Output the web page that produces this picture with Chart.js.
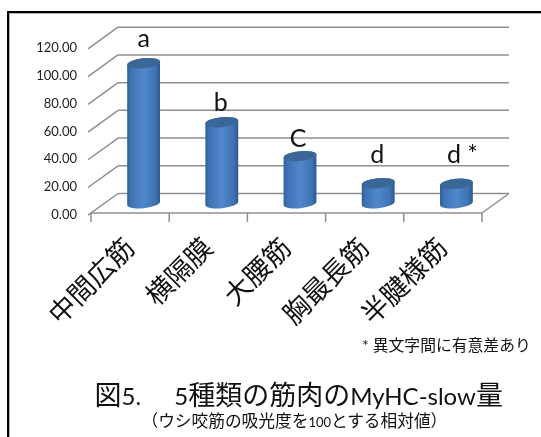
<!DOCTYPE html>
<html>
<head>
<meta charset="utf-8">
<script src="https://cdn.jsdelivr.net/npm/chart.js@4"></script>
<style>
    html, body { margin: 0; padding: 0; background: #ffffff; }
    #page { position: relative; width: 541px; height: 437px; overflow: hidden; }
    #frame { position: absolute; left: 7px; top: 11px; width: 560px; height: 460px; border-left: 2px solid #000000; border-top: 2px solid #000000; box-shadow: inset 1px 1px 0 #b5b5b5; }
    #graph { position: absolute; left: 0; top: 0; }
    .caption { position: absolute; white-space: nowrap; color: #111111; font-family: "Noto Sans CJK JP", sans-serif; }
    .caption span { font-family: Lato, sans-serif; }
    #note { left: 362px; top: 335px; font-size: 15.8px; line-height: 20px; }
    #title { left: 94.5px; top: 378px; font-size: 27px; line-height: 32px; }
    #title span { font-size: 24px; }
    #subtitle { left: 141.5px; top: 410px; font-size: 16.7px; line-height: 20px; }
    #subtitle span { font-size: 13px; }
</style>
</head>
<body>
<div id="page">
    <div id="frame"></div>
    <canvas id="graph" width="541" height="437"></canvas>
    <div id="note" class="caption"><span>* </span>異文字間に有意差あり</div>
    <div id="title" class="caption">図<span>5.</span>　<span> 5</span>種類の筋肉の<span>MyHC-slow</span>量</div>
    <div id="subtitle" class="caption">（ウシ咬筋の吸光度を<span>100</span>とする相対値）</div>
</div>
<script>
const muscle_names = ['中間広筋', '横隔膜', '大腰筋', '胸最長筋', '半腱様筋'];
const myhc_values = [101, 58.5, 34, 14.5, 14];
const group_letters = ['a', 'b', 'C', 'd', 'd *'];
const y_ticks = [0, 20, 40, 60, 80, 100, 120];

// floor depth of the fake 3D box, in pixels
const DEPTH_X = 27;
const DEPTH_Y = 19.5;
const LINE_COLOR = '#8f8f8f';
// baseline of each letter above its cylinder
const letter_gaps = [16, 11, 9, 20, 21];
const letter_shifts = [0, -1, -2, -1, 6];

function line(ctx, x1, y1, x2, y2) {
    ctx.beginPath();
    ctx.moveTo(x1, y1);
    ctx.lineTo(x2, y2);
    ctx.stroke();
}

// back wall, side wall and floor
const box_plugin = {
    id: 'box',
    beforeDatasetsDraw(chart) {
        const ctx = chart.ctx;
        const x = chart.scales.x;
        const y = chart.scales.y;
        ctx.save();
        ctx.strokeStyle = LINE_COLOR;
        ctx.lineWidth = 1.5;
        for (let i = 0; i < y_ticks.length; ++i) {
            let py = y.getPixelForValue(y_ticks[i]);
            line(ctx, x.left - 3, py + 2.2, x.left + DEPTH_X, py - DEPTH_Y);
            line(ctx, x.left + DEPTH_X, py - DEPTH_Y, x.right + DEPTH_X, py - DEPTH_Y);
        }
        let zero = y.getPixelForValue(0);
        line(ctx, x.left, zero, x.right, zero);
        line(ctx, x.right, zero, x.right + DEPTH_X, zero - DEPTH_Y);
        for (let i = 0; i <= muscle_names.length; ++i) {
            let px = x.left + i * (x.right - x.left) / muscle_names.length;
            line(ctx, px, zero, px, zero + 9);
        }
        ctx.restore();
    }
};

// bars are drawn as tilted cylinders standing in the middle of the floor
const cylinder_plugin = {
    id: 'cylinder',
    afterDatasetsDraw(chart) {
        const ctx = chart.ctx;
        const y = chart.scales.y;
        const bars = chart.getDatasetMeta(0).data;
        const tilt = -0.1;
        const rx = 16.5;
        const ry = 5;
        for (let i = 0; i < bars.length; ++i) {
            let cx = bars[i].x + DEPTH_X / 2;
            let base = y.getPixelForValue(0) - DEPTH_Y / 2;
            let top = y.getPixelForValue(myhc_values[i]) - DEPTH_Y / 2;
            let gradient = ctx.createLinearGradient(cx - rx, 0, cx + rx, 0);
            gradient.addColorStop(0, '#2f5f98');
            gradient.addColorStop(0.12, '#3f73b2');
            gradient.addColorStop(0.5, '#5088cb');
            gradient.addColorStop(0.85, '#3f73b2');
            gradient.addColorStop(1, '#2c5a90');
            ctx.save();
            ctx.fillStyle = gradient;
            ctx.beginPath();
            ctx.ellipse(cx, base, rx, ry, tilt, 0, Math.PI);
            ctx.ellipse(cx, top, rx, ry, tilt, Math.PI, 0);
            ctx.closePath();
            ctx.fill();
            ctx.fillStyle = '#3a6698';
            ctx.beginPath();
            ctx.ellipse(cx, top, rx, ry, tilt, 0, Math.PI * 2);
            ctx.fill();

            ctx.fillStyle = '#111111';
            ctx.font = '25px Lato, sans-serif';
            ctx.textAlign = 'center';
            ctx.textBaseline = 'alphabetic';
            ctx.fillText(group_letters[i], cx + letter_shifts[i], top - letter_gaps[i]);
            ctx.restore();
        }
    }
};

function draw_chart() {
    const config = {
        type: 'bar',
        data: {
            labels: muscle_names,
            datasets: [{ data: myhc_values, backgroundColor: 'rgba(0, 0, 0, 0)' }]
        },
        options: {
            responsive: false,
            animation: false,
            layout: { padding: { left: 0, top: 46.7, right: 59, bottom: 0 } },
            plugins: { legend: { display: false }, tooltip: { enabled: false } },
            scales: {
                x: {
                    grid: { display: false },
                    border: { display: false },
                    afterFit(scale) { scale.height = 224; },
                    ticks: {
                        color: '#111111',
                        font: { family: '"Noto Sans CJK JP"', size: 27 },
                        minRotation: 45,
                        maxRotation: 45,
                        labelOffset: -1,
                        padding: 10
                    }
                },
                y: {
                    min: 0,
                    max: 120,
                    grid: { display: false },
                    border: { display: false },
                    afterFit(scale) { scale.width = 91; },
                    afterBuildTicks(scale) { scale.ticks = y_ticks.map(v => ({ value: v })); },
                    ticks: {
                        color: '#222222',
                        padding: 6,
                        labelOffset: 1.5,
                        font: { family: 'Lato', size: 13 },
                        callback: value => value.toFixed(2)
                    }
                }
            }
        },
        plugins: [box_plugin, cylinder_plugin]
    };
    return new Chart(document.getElementById('graph'), config);
}

draw_chart();
</script>
</body>
</html>
